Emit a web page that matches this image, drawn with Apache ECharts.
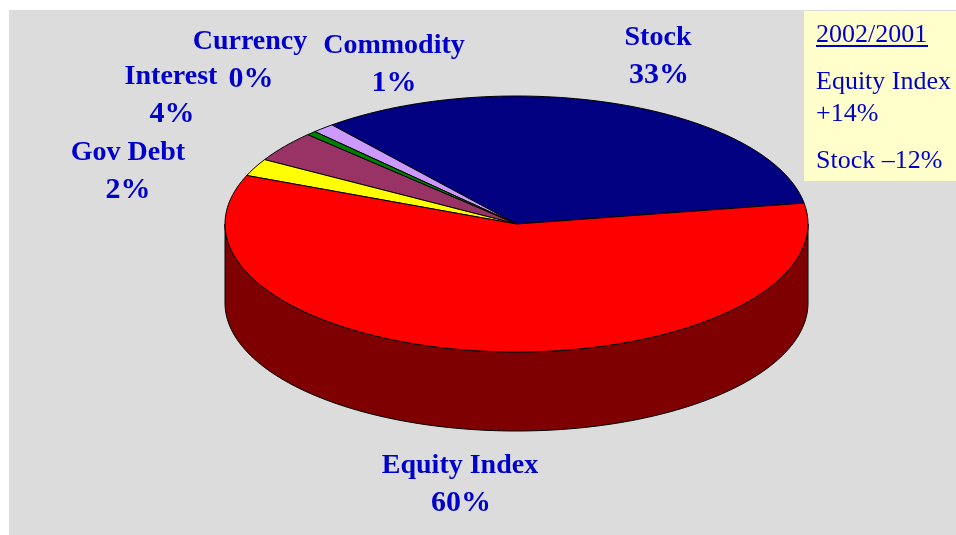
<!DOCTYPE html>
<html>
<head>
<meta charset="utf-8">
<style>
  html, body { margin: 0; padding: 0; background: #fff; }
  #main { width: 956px; height: 535px; }
</style>
<script src="https://cdn.jsdelivr.net/npm/echarts@6/dist/echarts.min.js"></script>
</head>
<body>
<div id="main"></div>
<script>
// slices, counter-clockwise from the right edge of the stock slice
const categories = ['Stock', 'Commodity', 'Currency', 'Interest', 'Gov Debt', 'Equity Index'];
const sliceShares = [33.3, 1.25, 0.55, 3.9, 2.2, 58.8];
// percentages as printed on the labels
const printedPercents = ['33%', '1%', '0%', '4%', '2%', '60%'];
const boxLines = ['2002/2001', 'Equity Index', '+14%', 'Stock \u201312%'];

const topColors = ['#000080', '#CC99FF', '#008000', '#993366', '#FFFF00', '#FF0000'];
const wallColors = ['#000040', '#664D80', '#004000', '#4D1A33', '#808000', '#7F0000'];

// pie geometry
const cx = 516.5, cy = 224, rx = 291.5, ry = 128, depth = 79;
const startDeg = 9.4;
const total = sliceShares.reduce((a, b) => a + b, 0);

function arcPoint(deg, dy) {
  const r = deg * Math.PI / 180;
  return [cx + rx * Math.cos(r), cy - ry * Math.sin(r) + (dy || 0)];
}

function arcPoints(from, to, dy) {
  const pts = [];
  const steps = Math.max(2, Math.ceil(Math.abs(to - from) / 1.5));
  for (let i = 0; i <= steps; i++) {
    pts.push(arcPoint(from + (to - from) * i / steps, dy));
  }
  return pts;
}

function renderSlice(params, api) {
  const share = api.value(0);
  const before = api.value(1);
  const a0 = startDeg + before / total * 360;
  const a1 = a0 + share / total * 360;
  const children = [];
  // outer wall, only the part on the front half is visible
  const w0 = Math.max(a0, 180), w1 = Math.min(a1, 360);
  if (w1 > w0) {
    children.push({
      type: 'polygon',
      shape: { points: arcPoints(w0, w1, 0).concat(arcPoints(w1, w0, depth)) },
      style: { fill: wallColors[params.dataIndex], stroke: '#000', lineWidth: 1 }
    });
  }
  children.push({
    type: 'polygon',
    shape: { points: [[cx, cy]].concat(arcPoints(a0, a1, 0)) },
    style: { fill: topColors[params.dataIndex], stroke: '#000', lineWidth: 1 }
  });
  return { type: 'group', children };
}

let running = 0;
const sliceData = categories.map((name, i) => {
  const item = { name, value: [sliceShares[i], running] };
  running += sliceShares[i];
  return item;
});

// label centres: [x, name line y, percent x]
const labelSpots = [
  [658, 37.5, 659], [394, 45.5, 394], [250, 41.5, 251],
  [171, 76.5, 172], [128, 152.5, 128], [460, 465.5, 461]
];
const labelGap = 38;
const labelFont = 'bold 28px "Liberation Serif"';
const percentFont = 'bold 30px "Liberation Serif"';
const boxFont = '26px "Liberation Serif"';
const blue = '#0000CC';

const labelGraphics = [];
categories.forEach((name, i) => {
  const s = labelSpots[i];
  labelGraphics.push({
    type: 'text', x: s[0], y: s[1], z: 10,
    style: { text: name, font: labelFont, fill: blue, align: 'center', verticalAlign: 'middle' }
  });
  labelGraphics.push({
    type: 'text', x: s[2], y: s[1] + labelGap, z: 10,
    style: { text: printedPercents[i], font: percentFont, fill: blue, align: 'center', verticalAlign: 'middle' }
  });
});

const boxLineY = [35, 82, 114, 161];
const boxGraphics = boxLines.map((line, i) => ({
  type: 'text', x: 816, y: boxLineY[i], z: 10,
  style: { text: line, font: boxFont, fill: blue, align: 'left', verticalAlign: 'middle' }
}));

const chart = echarts.init(document.getElementById('main'), null, { renderer: 'canvas' });
chart.setOption({
  animation: false,
  backgroundColor: '#fff',
  graphic: [
    { type: 'rect', z: -10, shape: { x: 9, y: 10, width: 947, height: 525 }, style: { fill: '#DCDCDC' } },
    { type: 'rect', z: 5, shape: { x: 804, y: 11, width: 152, height: 170 }, style: { fill: '#FFFFCC' } },
    { type: 'rect', z: 10, shape: { x: 816, y: 45, width: 112, height: 2 }, style: { fill: blue } }
  ].concat(labelGraphics, boxGraphics),
  series: [{
    type: 'custom',
    coordinateSystem: 'none',
    renderItem: renderSlice,
    silent: true,
    data: sliceData
  }]
});
window.addEventListener('resize', () => chart.resize());
</script>
</body>
</html>
